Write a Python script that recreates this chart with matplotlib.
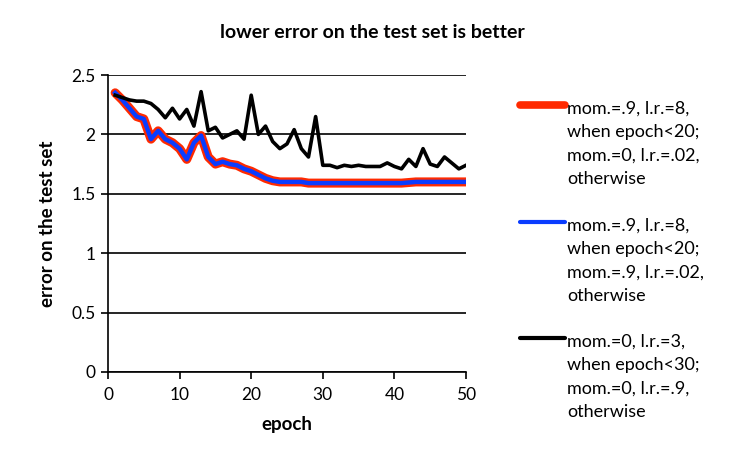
import matplotlib
matplotlib.use('Agg')
import matplotlib.pyplot as plt
from matplotlib.lines import Line2D

plt.rcParams['font.family'] = ['Lato', 'DejaVu Sans']

epochs = list(range(1, 51))

red_err = [2.35, 2.29, 2.22, 2.15, 2.13, 1.96, 2.03, 1.96, 1.93, 1.88,
           1.79, 1.93, 1.99, 1.81, 1.75, 1.77, 1.75, 1.74, 1.71, 1.69,
           1.66, 1.63, 1.61, 1.60, 1.60, 1.60, 1.60, 1.59, 1.59, 1.59,
           1.59, 1.59, 1.59, 1.59, 1.59, 1.59, 1.59, 1.59, 1.59, 1.59,
           1.59, 1.595, 1.60, 1.60, 1.60, 1.60, 1.60, 1.60, 1.60, 1.60]

blue_err = [2.35, 2.29, 2.22, 2.15, 2.13, 1.96, 2.03, 1.96, 1.93, 1.88,
            1.79, 1.93, 1.99, 1.81, 1.75, 1.77, 1.75, 1.74, 1.71, 1.69,
            1.66, 1.63, 1.61, 1.60, 1.60, 1.60, 1.60, 1.59, 1.59, 1.59,
            1.59, 1.59, 1.59, 1.59, 1.59, 1.59, 1.59, 1.59, 1.59, 1.59,
            1.59, 1.595, 1.60, 1.60, 1.60, 1.60, 1.60, 1.60, 1.60, 1.60]

black_err = [2.33, 2.31, 2.29, 2.28, 2.28, 2.26, 2.21, 2.14, 2.22, 2.13,
             2.21, 2.07, 2.36, 2.03, 2.06, 1.97, 2.00, 2.03, 1.96, 2.33,
             2.00, 2.07, 1.94, 1.88, 1.92, 2.04, 1.88, 1.81, 2.15, 1.74,
             1.74, 1.72, 1.74, 1.73, 1.74, 1.73, 1.73, 1.73, 1.76, 1.73,
             1.71, 1.79, 1.73, 1.88, 1.75, 1.73, 1.81, 1.76, 1.71, 1.74]

labels = [
    'mom.=.9, l.r.=8,\nwhen epoch<20;\nmom.=0, l.r.=.02,\notherwise',
    'mom.=.9, l.r.=8,\nwhen epoch<20;\nmom.=.9, l.r.=.02,\notherwise',
    'mom.=0, l.r.=3,\nwhen epoch<30;\nmom.=0, l.r.=.9,\notherwise',
]
colors = ['#ff2a00', '#0a3cff', 'black']

W, H = 747, 472
fig = plt.figure(figsize=(W / 100, H / 100), dpi=100)
ax = fig.add_axes([108 / W, 1 - 372 / H, (466 - 108) / W, (372 - 75) / H])

ax.plot(epochs, red_err, color=colors[0], lw=6.5, solid_joinstyle='round', solid_capstyle='round')
ax.plot(epochs, blue_err, color=colors[1], lw=3.2, solid_joinstyle='round')
ax.plot(epochs, black_err, color=colors[2], lw=2.6, solid_joinstyle='round')

ax.set_xlim(0, 50)
ax.set_ylim(0, 2.5)
ax.set_xticks([0, 10, 20, 30, 40, 50])
ax.set_yticks([0, 0.5, 1, 1.5, 2, 2.5])
ax.set_yticklabels(['0', '0.5', '1', '1.5', '2', '2.5'])
ax.yaxis.grid(True, color='black', lw=1.2)
ax.set_axisbelow(True)
for s in ['top', 'right']:
    ax.spines[s].set_visible(False)
for s in ['left', 'bottom']:
    ax.spines[s].set_linewidth(1.2)
ax.tick_params(axis='y', direction='out', length=5, width=1.2, labelsize=12.5, pad=4)
ax.tick_params(axis='x', direction='out', length=5, width=1.2, labelsize=12.5, pad=6)

ax.set_xlabel('epoch', fontsize=13.5, fontweight='bold', labelpad=9)
ax.set_ylabel('error on the test set', fontsize=13.5, fontweight='bold', labelpad=11)
fig.text(372 / W, 1 - 33 / H, 'lower error on the test set is better',
         fontsize=14, fontweight='bold', ha='center', va='center')

# legend drawn by hand so the handle sits on the first line of each label
lws = [5.5, 3.0, 3.0]
handle_y = [105, 222, 338]
for lab, c, lw, y in zip(labels, colors, lws, handle_y):
    fig.add_artist(Line2D([520 / W, 565 / W], [1 - y / H, 1 - y / H],
                          color=c, lw=lw, solid_capstyle='round',
                          transform=fig.transFigure))
    fig.text(567 / W, 1 - (y - 4) / H, lab, fontsize=13, ha='left', va='top',
             linespacing=1.56)

fig.savefig('out.png', dpi=100)
